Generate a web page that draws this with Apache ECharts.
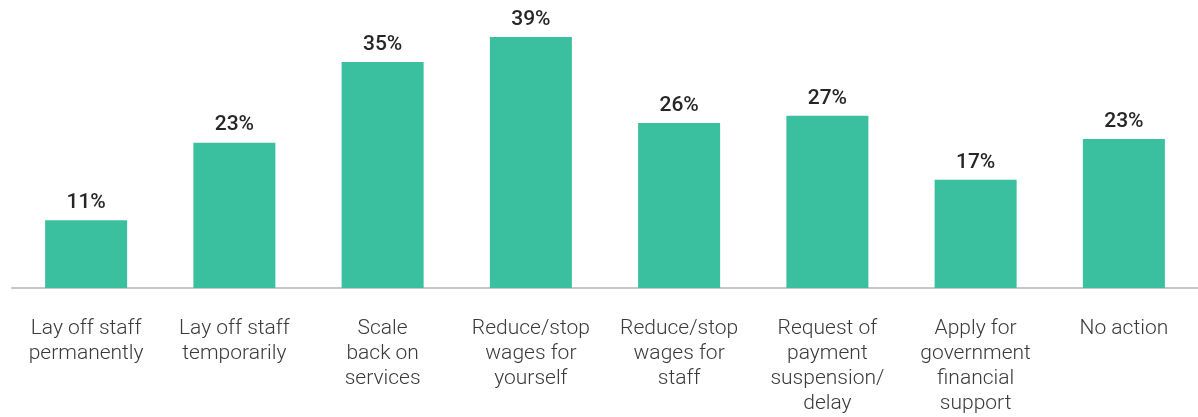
<!DOCTYPE html>
<html>
<head>
<meta charset="utf-8">
<style>
html,body{margin:0;padding:0;background:#fff;}
#chart{width:1198px;height:417px;}
</style>
<script src="https://cdn.jsdelivr.net/npm/echarts@6/dist/echarts.min.js"></script>
</head>
<body>
<div id="chart"></div>
<script>
const categories = [
  "Lay off staff\npermanently",
  "Lay off staff\ntemporarily",
  "Scale\nback on\nservices",
  "Reduce/stop\nwages for\nyourself",
  "Reduce/stop\nwages for\nstaff",
  "Request of\npayment\nsuspension/\ndelay",
  "Apply for\ngovernment\nfinancial\nsupport",
  "No action"
];
const values = [10.6, 22.7, 35.3, 39.2, 25.8, 26.9, 16.9, 23.3];

const chart = echarts.init(document.getElementById('chart'));
chart.setOption({
  animation: false,
  grid: { left: 12, right: 0, top: 32, bottom: 129, containLabel: false },
  xAxis: {
    type: 'category',
    data: categories,
    axisLine: { show: true, lineStyle: { color: '#c6c6c6', width: 2 } },
    axisTick: { show: false },
    axisLabel: {
      interval: 0,
      margin: 28,
      fontFamily: 'Roboto',
      fontWeight: 300,
      fontSize: 21,
      lineHeight: 25,
      color: '#3a3a3a'
    }
  },
  yAxis: {
    type: 'value',
    min: 0,
    max: 40,
    show: false,
    splitLine: { show: false }
  },
  series: [{
    type: 'bar',
    data: values,
    barWidth: 82,
    itemStyle: { color: '#3abf9f' },
    label: {
      show: true,
      position: 'top',
      distance: 7,
      formatter: p => Math.round(p.value) + '%',
      fontFamily: 'Roboto',
      fontWeight: 500,
      fontSize: 21,
      color: '#262626'
    }
  }]
});
</script>
</body>
</html>
